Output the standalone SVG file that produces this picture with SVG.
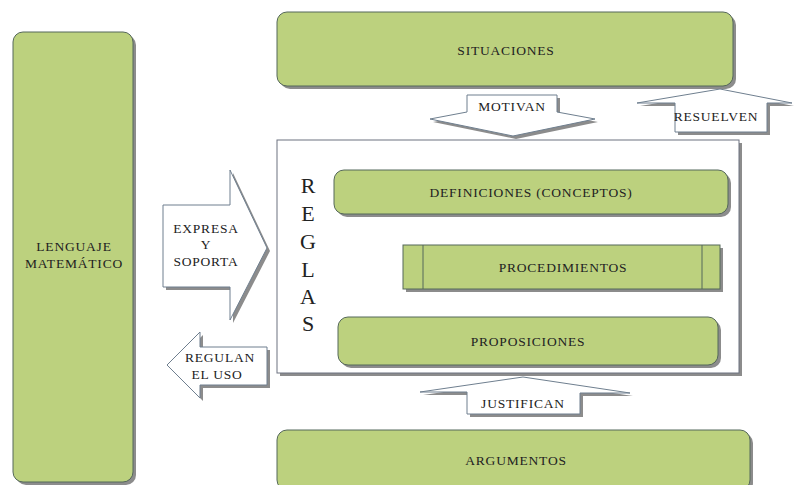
<svg xmlns="http://www.w3.org/2000/svg" width="794" height="485" viewBox="0 0 794 485">
<style>
.box{fill:#bcd17e;stroke:#55685a;stroke-width:1}
.sh{fill:#8c8c8c}
.arr{fill:#ffffff;stroke:#6f7f8f;stroke-width:1}
.frame{fill:#ffffff;stroke:#6d7280;stroke-width:1}
text{font-family:'Liberation Serif','DejaVu Serif',serif;fill:#222;text-anchor:middle}
.t{font-size:13.5px;letter-spacing:0.8px}
.big{font-size:22px}
</style>
<rect width="794" height="485" fill="#ffffff"/>

<g id="lenguaje">
<rect class="sh" x="16" y="35" width="120" height="450" rx="10"/>
<rect class="box" x="13" y="32" width="120" height="450" rx="10"/>
<text class="t" x="74" y="251">LENGUAJE</text>
<text class="t" x="74" y="268">MATEMÁTICO</text>
</g>

<g id="situaciones">
<rect class="sh" x="280" y="15" width="456" height="74" rx="10"/>
<rect class="box" x="277" y="12" width="456" height="74" rx="10"/>
<text class="t" x="506" y="55">SITUACIONES</text>
</g>

<g id="reglas">
<rect class="sh" x="280" y="143" width="462" height="233"/>
<rect class="frame" x="277" y="140" width="462" height="233"/>
<text class="big" x="308" y="193">R</text>
<text class="big" x="308" y="221">E</text>
<text class="big" x="308" y="249">G</text>
<text class="big" x="308" y="277">L</text>
<text class="big" x="308" y="304">A</text>
<text class="big" x="308" y="331">S</text>
</g>

<g id="definiciones">
<rect class="sh" x="337" y="173" width="394" height="44" rx="10"/>
<rect class="box" x="334" y="170" width="394" height="44" rx="10"/>
<text class="t" x="531" y="197">DEFINICIONES (CONCEPTOS)</text>
</g>

<g id="procedimientos">
<rect class="sh" x="406" y="248" width="317" height="44"/>
<rect class="box" x="403" y="245" width="317" height="44"/>
<line x1="423" y1="245" x2="423" y2="289" stroke="#55685a"/>
<line x1="702" y1="245" x2="702" y2="289" stroke="#55685a"/>
<text class="t" x="563" y="272">PROCEDIMIENTOS</text>
</g>

<g id="proposiciones">
<rect class="sh" x="341" y="320" width="380" height="48" rx="10"/>
<rect class="box" x="338" y="317" width="380" height="48" rx="10"/>
<text class="t" x="528" y="346">PROPOSICIONES</text>
</g>

<g id="argumentos">
<rect class="sh" x="280" y="433" width="473" height="60" rx="10"/>
<rect class="box" x="277" y="430" width="473" height="60" rx="10"/>
<text class="t" x="516" y="465">ARGUMENTOS</text>
</g>

<g id="connectors">
<g id="motivan">
<polygon class="sh" points="470,98 560,98 560,115 598,122 516,139 433,122 470,115"/>
<polygon class="arr" points="467,95 557,95 557,112 595,119 513,136 430,119 467,112"/>
<text class="t" x="512" y="111">MOTIVAN</text>
</g>
<g id="resuelven">
<polygon class="sh" points="678,135 770,135 770,106 794,106 723,92 640,106 678,106"/>
<polygon class="arr" points="675,132 767,132 767,103 792,103 720,89 637,103 675,103"/>
<text class="t" x="716" y="121">RESUELVEN</text>
</g>
<g id="expresa">
<polygon class="sh" points="166,208 233,208 233,173 270,251 233,323 233,290 166,290"/>
<polygon class="arr" points="163,205 230,205 230,170 267,248 230,320 230,287 163,287"/>
<text class="t" x="206" y="233">EXPRESA</text>
<text class="t" x="206" y="249">Y</text>
<text class="t" x="206" y="266">SOPORTA</text>
</g>
<g id="regulan">
<polygon class="sh" points="170,368 203,335 203,350 270,350 270,388 203,388 203,401"/>
<polygon class="arr" points="167,365 200,332 200,347 267,347 267,385 200,385 200,398"/>
<text class="t" x="220" y="362">REGULAN</text>
<text class="t" x="217" y="379">EL USO</text>
</g>
<g id="justifican">
<polygon class="sh" points="470,417 583,417 583,396 633,396 526,380 423,395 470,395"/>
<polygon class="arr" points="467,414 580,414 580,393 630,393 523,377 420,392 467,392"/>
<text class="t" x="523" y="408">JUSTIFICAN</text>
</g>
</g>
</svg>
